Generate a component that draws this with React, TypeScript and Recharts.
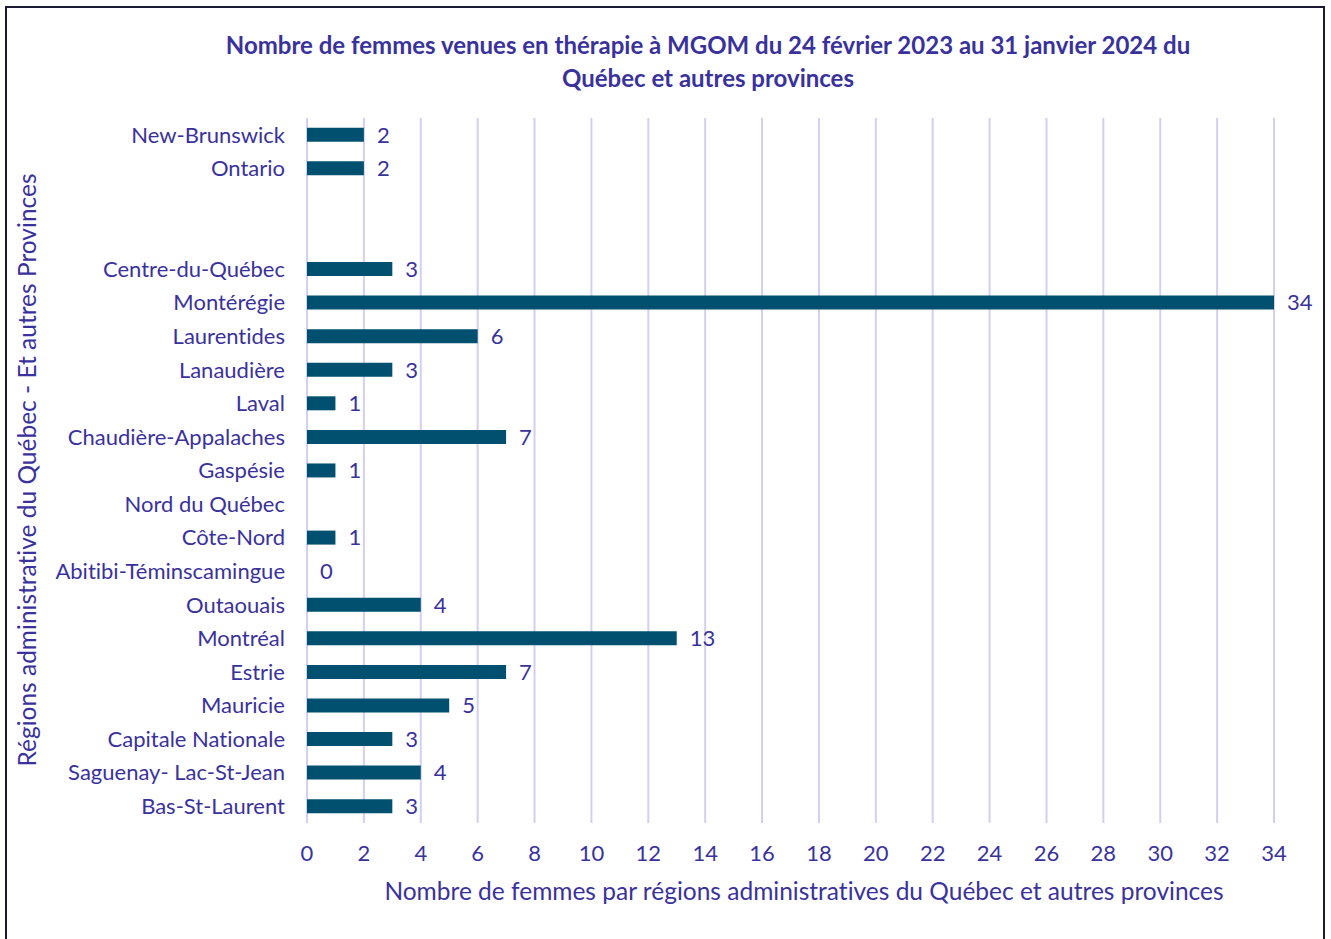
import React from "react";
import { ComposedChart, Bar, Line, XAxis, YAxis, CartesianGrid, LabelList, Label } from "recharts";

const categories = [
  "New-Brunswick",
  "Ontario",
  "",
  " ",
  "Centre-du-Québec",
  "Montérégie",
  "Laurentides",
  "Lanaudière",
  "Laval",
  "Chaudière-Appalaches",
  "Gaspésie",
  "Nord du Québec",
  "Côte-Nord",
  "Abitibi-Téminscamingue",
  "Outaouais",
  "Montréal",
  "Estrie",
  "Mauricie",
  "Capitale Nationale",
  "Saguenay- Lac-St-Jean",
  "Bas-St-Laurent",
];

const values: (number | null)[] = [2, 2, null, null, 3, 34, 6, 3, 1, 7, 1, null, 1, 0, 4, 13, 7, 5, 3, 4, 3];

const xTicks = [0, 2, 4, 6, 8, 10, 12, 14, 16, 18, 20, 22, 24, 26, 28, 30, 32, 34];

const titleLines = [
  "Nombre de femmes venues en thérapie à MGOM du 24 février 2023 au 31 janvier 2024 du",
  "Québec et autres provinces",
];
const xTitle = "Nombre de femmes par régions administratives du Québec et autres provinces";
const yTitle = "Régions administrative du Québec - Et autres Provinces";

const data = categories.map((c, i) => ({ name: c, value: values[i] }));

const TEXT = "#3a329c";
const BAR = "#02506f";
const GRID = "#d3cff0";
const FONT = "Lato, 'Open Sans', sans-serif";

const ValueLabel = (props: any) => {
  const { x, y, value } = props;
  if (value === null || value === undefined || x === null || x === undefined) return null;
  return (
    <text x={Number(x) + 13} y={Number(y)} dy="0.355em" textAnchor="start" fill={TEXT} fontSize={22} fontFamily={FONT}>
      {value}
    </text>
  );
};

export default function App() {
  return (
    <div style={{ position: "absolute", left: 0, top: 0, width: 1331, height: 939, background: "#fff", overflow: "hidden", fontFamily: FONT, fontVariantLigatures: "none" }}>
      <div style={{ position: "absolute", left: 5, top: 6, width: 1320, height: 960, border: "2px solid #1a1a33", boxSizing: "border-box" }} />
      <div style={{ position: "absolute", left: 0, top: 28, width: 1416, textAlign: "center", color: TEXT, fontWeight: 700, fontSize: 24, lineHeight: "33px" }}>
        {titleLines.map((t, i) => (
          <div key={i}>{t}</div>
        ))}
      </div>
      <div style={{ position: "absolute", left: 0, top: 0 }}>
        <ComposedChart
          width={1331}
          height={939}
          data={data}
          layout="vertical"
          margin={{ top: 118, right: 57, bottom: 0, left: 0 }}
          barCategoryGap="29%"
        >
          <CartesianGrid horizontal={false} vertical={true} stroke={GRID} strokeWidth={2} />
          <XAxis
            type="number"
            domain={[0, 34]}
            ticks={xTicks}
            interval={0}
            axisLine={false}
            tickLine={false}
            tickMargin={16}
            height={116}
            tick={{ fill: TEXT, fontSize: 22, fontFamily: FONT }}
          >
            <Label
              value={xTitle}
              content={(props: any) => {
                const vb = props.viewBox || {};
                return (
                  <text x={804} y={vb.y + 77} textAnchor="middle" fill={TEXT} fontSize={24.5} fontFamily={FONT}>
                    {xTitle}
                  </text>
                );
              }}
            />
          </XAxis>
          <YAxis
            type="category"
            dataKey="name"
            width={307}
            axisLine={false}
            tickLine={false}
            tickMargin={16}
            interval={0}
            tick={{ fill: TEXT, fontSize: 22, fontFamily: FONT }}
          >
            <Label
              value={yTitle}
              content={() => (
                <text
                  x={0}
                  y={0}
                  transform={`translate(36, 470) rotate(-90)`}
                  textAnchor="middle"
                  fill={TEXT}
                  fontSize={24.5}
                  fontFamily={FONT}
                >
                  {yTitle}
                </text>
              )}
            />
          </YAxis>
          <Bar dataKey="value" fill={BAR} isAnimationActive={false} />
          <Line
            dataKey="value"
            stroke="none"
            fill="none"
            dot={false}
            activeDot={false}
            legendType="none"
            isAnimationActive={false}
          >
            <LabelList dataKey="value" content={ValueLabel} />
          </Line>
        </ComposedChart>
      </div>
    </div>
  );
}
